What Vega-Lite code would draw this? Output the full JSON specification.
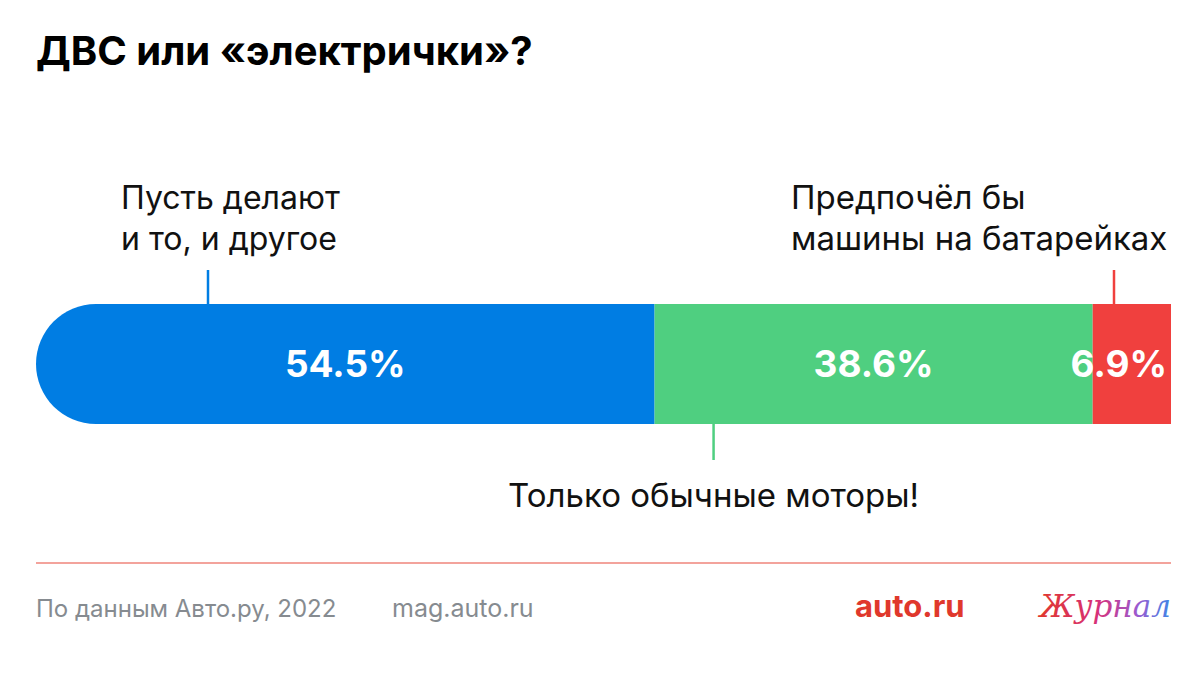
{
  "$schema": "https://vega.github.io/schema/vega-lite/v6.json",
  "width": 1135,
  "height": 120,
  "autosize": {"type": "none"},
  "padding": {"left": 36, "top": 304, "right": 33, "bottom": 268},
  "background": "white",
  "view": {"stroke": null},
  "title": {
    "text": "ДВС или «электрички»?",
    "anchor": "start",
    "frame": "group",
    "font": "Inter",
    "fontSize": 40,
    "fontWeight": "bold",
    "color": "#000000",
    "baseline": "alphabetic",
    "offset": 78
  },
  "datasets": {
    "answers": [
      {"answer": "Пусть делают и то, и другое", "lines": ["Пусть делают", "и то, и другое"], "share": 0.545},
      {"answer": "Только обычные моторы!", "lines": ["Только обычные моторы!"], "share": 0.386},
      {"answer": "Предпочёл бы машины на батарейках", "lines": ["Предпочёл бы", "машины на батарейках"], "share": 0.069}
    ],
    "footer": [
      {"source": "По данным Авто.ру, 2022", "site": "mag.auto.ru", "brand": "auto.ru", "section": "Журнал"}
    ]
  },
  "data": {"name": "answers"},
  "transform": [
    {"stack": "share", "groupby": [], "sort": [{"field": "share", "order": "descending"}], "as": ["s0", "s1"]}
  ],
  "layer": [
    {
      "mark": {
        "type": "bar",
        "height": {"band": 1},
        "cornerRadiusTopLeft": {"expr": "datum.s0 == 0 ? 60 : 0"},
        "cornerRadiusBottomLeft": {"expr": "datum.s0 == 0 ? 60 : 0"}
      },
      "encoding": {
        "x": {"field": "s0", "type": "quantitative", "scale": {"domain": [0, 1]}, "axis": null},
        "x2": {"field": "s1"},
        "color": {
          "field": "answer",
          "type": "nominal",
          "scale": {
            "domain": ["Пусть делают и то, и другое", "Только обычные моторы!", "Предпочёл бы машины на батарейках"],
            "range": ["#007de3", "#4fcf80", "#f0403e"]
          },
          "legend": null
        }
      }
    },
    {
      "transform": [{"filter": "datum.share >= 0.1"}],
      "mark": {"type": "text", "font": "Inter", "fontSize": 37, "fontWeight": "bold", "color": "white", "align": "center", "baseline": "alphabetic"},
      "encoding": {
        "x": {"field": "share", "type": "quantitative", "stack": "zero", "bandPosition": 0.5},
        "order": {"field": "share", "sort": "descending"},
        "detail": {"field": "answer"},
        "y": {"value": 73},
        "text": {"field": "share", "format": ".1%"}
      }
    },
    {
      "transform": [{"filter": "datum.share < 0.1"}],
      "mark": {"type": "text", "font": "Inter", "fontSize": 37, "fontWeight": "bold", "color": "white", "align": "right", "baseline": "alphabetic", "dx": -4},
      "encoding": {
        "x": {"field": "s1", "type": "quantitative"},
        "y": {"value": 73},
        "text": {"field": "share", "format": ".1%"}
      }
    },
    {
      "transform": [{"filter": "datum.answer == 'Пусть делают и то, и другое'"}],
      "layer": [
        {
          "mark": {"type": "rule", "color": "#007de3", "strokeWidth": 2.5, "xOffset": 172},
          "encoding": {"x": {"field": "s0", "type": "quantitative"}, "y": {"value": -34}, "y2": {"value": 0}}
        },
        {
          "mark": {"type": "text", "font": "Inter", "fontSize": 32, "lineHeight": 41, "color": "#111111", "align": "left", "baseline": "alphabetic", "dx": 85},
          "encoding": {"x": {"field": "s0", "type": "quantitative"}, "y": {"value": -95}, "text": {"field": "lines"}}
        }
      ]
    },
    {
      "transform": [{"filter": "datum.answer == 'Только обычные моторы!'"}],
      "layer": [
        {
          "mark": {"type": "rule", "color": "#4fcf80", "strokeWidth": 2.5, "xOffset": 59},
          "encoding": {"x": {"field": "s0", "type": "quantitative"}, "y": {"value": 120}, "y2": {"value": 156}}
        },
        {
          "mark": {"type": "text", "font": "Inter", "fontSize": 33, "color": "#111111", "align": "center", "baseline": "alphabetic", "dx": 59},
          "encoding": {"x": {"field": "s0", "type": "quantitative"}, "y": {"value": 203}, "text": {"field": "lines"}}
        }
      ]
    },
    {
      "transform": [{"filter": "datum.answer == 'Предпочёл бы машины на батарейках'"}],
      "layer": [
        {
          "mark": {"type": "rule", "color": "#f0403e", "strokeWidth": 2.5, "xOffset": -57},
          "encoding": {"x": {"field": "s1", "type": "quantitative"}, "y": {"value": -34}, "y2": {"value": 0}}
        },
        {
          "mark": {"type": "text", "font": "Inter", "fontSize": 33, "lineHeight": 41, "color": "#111111", "align": "left", "baseline": "alphabetic", "dx": -380},
          "encoding": {"x": {"field": "s1", "type": "quantitative"}, "y": {"value": -95}, "text": {"field": "lines"}}
        }
      ]
    },
    {
      "data": {"name": "footer"},
      "layer": [
        {
          "mark": {"type": "rule", "color": "#f3a39c", "strokeWidth": 2},
          "encoding": {"x": {"datum": 0, "type": "quantitative"}, "x2": {"datum": 1}, "y": {"value": 259}}
        },
        {
          "mark": {"type": "text", "font": "Inter", "fontSize": 24, "color": "#868b90", "align": "left", "baseline": "alphabetic"},
          "encoding": {"x": {"value": 0}, "y": {"value": 313}, "text": {"field": "source"}}
        },
        {
          "mark": {"type": "text", "font": "Inter", "fontSize": 25, "color": "#868b90", "align": "left", "baseline": "alphabetic"},
          "encoding": {"x": {"value": 356}, "y": {"value": 313}, "text": {"field": "site"}}
        },
        {
          "mark": {"type": "text", "font": "Inter", "fontSize": 31, "fontWeight": "bold", "color": "#e0382c", "align": "left", "baseline": "alphabetic"},
          "encoding": {"x": {"value": 819}, "y": {"value": 313}, "text": {"field": "brand"}}
        },
        {
          "mark": {"type": "text", "font": "DejaVu Serif", "fontSize": 31, "fontStyle": "italic", "align": "right", "baseline": "alphabetic"},
          "encoding": {
            "x": {"value": 1135},
            "y": {"value": 313},
            "text": {"field": "section"},
            "color": {"value": {"gradient": "linear", "x1": 0, "x2": 1, "y1": 0, "y2": 0, "stops": [{"offset": 0, "color": "#e0382c"}, {"offset": 0.45, "color": "#d6307a"}, {"offset": 0.75, "color": "#9b5bd0"}, {"offset": 1, "color": "#3f86e6"}]}}
          }
        }
      ]
    }
  ]
}
